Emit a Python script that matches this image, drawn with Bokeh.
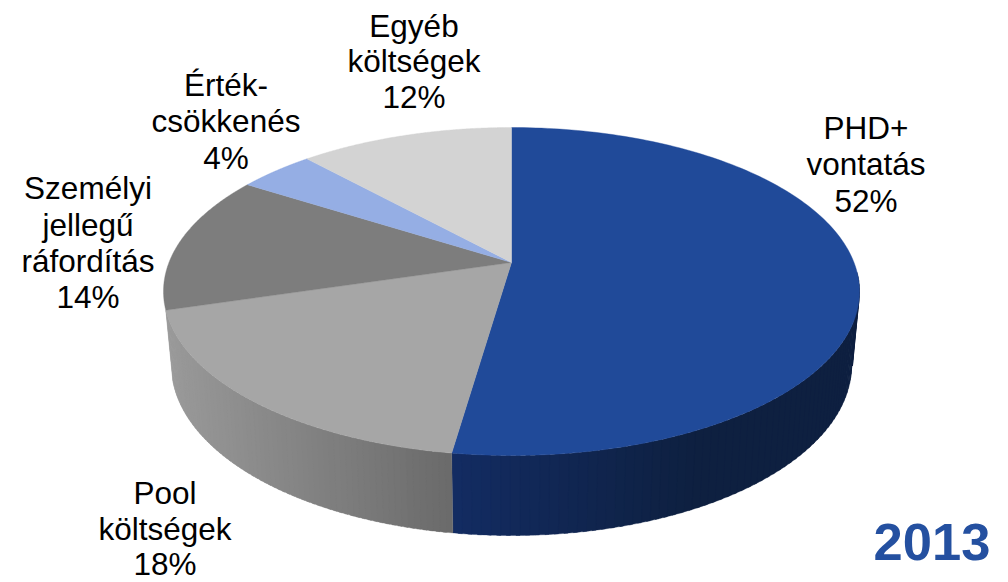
import numpy as np
from bokeh.plotting import figure
from bokeh.models import Range1d
from bokeh.core.properties import value
from bokeh.embed import file_html
from bokeh.resources import INLINE

# data
categories = ["PHD+ vontatás", "Pool költségek", "Személyi jellegű ráfordítás", "Érték-csökkenés", "Egyéb költségek"]
shares = [52.3, 18.1, 13.6, 4.2, 11.8]
top_colors = ["#204A99", "#A6A6A6", "#7D7D7D", "#95AEE4", "#D3D3D3"]
label_lines = [["PHD+", "vontatás", "52%"], ["Pool", "költségek", "18%"],
               ["Személyi", "jellegű", "ráfordítás", "14%"], ["Érték-", "csökkenés", "4%"],
               ["Egyéb", "költségek", "12%"]]
year_label = "2013"

# layout (screen pixels)
CX, CY, RX, RY, D = 511.0, 291.0, 348.0, 164.0, 29.0 / 164.0
BCY, BRX, BRY, K = 365.0, 340.0, 170.0, 0.98
label_x = [865.5, 164.5, 87.5, 225.5, 413.5]
label_y = [[127, 163, 200], [492, 528, 563], [187, 224, 260, 296], [84, 120, 157], [25, 60, 96]]

p = figure(width=1008, height=582, output_backend="svg", toolbar_location=None,
           x_range=Range1d(0, 1008), y_range=Range1d(582, 0),
           min_border=0, outline_line_color=None, background_fill_color="white")
p.axis.visible = False
p.grid.visible = False


def project(theta):
    """True pie angle (clockwise from top, radians) to screen point on the tilted disc."""
    u, v = np.sin(theta), np.cos(theta)
    w = 1 + D * v
    return CX + RX * (u * np.sqrt(1 - D * D) / w), CY - RY * ((v + D) / w)


def lower(xt):
    xb = CX + (xt - CX) * K
    return xb, BCY + BRY * np.sqrt(np.clip(1 - ((xb - CX) / BRX) ** 2, 0, 1))


def lerp_hex(a, b, f):
    ca = [int(a[i:i + 2], 16) for i in (1, 3, 5)]
    cb = [int(b[i:i + 2], 16) for i in (1, 3, 5)]
    return "#%02x%02x%02x" % tuple(int(round(x + (y - x) * f)) for x, y in zip(ca, cb))


edges = np.radians(np.concatenate([[0], np.cumsum(shares)]) * 3.6)

# visible side wall: only the near half of the disc
visible_from = np.radians(93.5)   # silhouette on the right
side_ranges = [(max(edges[0], visible_from), edges[1], "#0E2040", "#132C63"),
               (edges[1], edges[2], "#6B6B6B", "#9A9A9A")]
xs_side, ys_side, cs_side = [], [], []
for a, b, c_a, c_b in side_ranges:
    n = 70
    steps = np.linspace(a, b, n + 1)
    xb = project(b)[0]
    for i in range(n):
        th = np.linspace(steps[i], min(steps[i + 1] + 0.01, b), 6)
        xt, yt = project(th)
        xl, yl = lower(xt)
        xs_side.append(np.concatenate([xt, xl[::-1]]))
        ys_side.append(np.concatenate([yt, yl[::-1]]))
        mid = project(steps[i])[0]
        if c_a == "#0E2040":
            f = np.clip((700 - mid) / (700 - xb), 0, 1)
        else:
            x0 = project(edges[1])[0]
            f = (mid - x0) / (xb - x0)
        cs_side.append(lerp_hex(c_a, c_b, f))
p.patches(xs_side, ys_side, fill_color=cs_side, line_color=cs_side, line_width=0.3)

# top faces
ax, ay = CX, CY - RY * D
for i in range(len(shares)):
    th = np.linspace(edges[i], edges[i + 1], 160)
    xt, yt = project(th)
    p.patch(np.concatenate([[ax], xt]), np.concatenate([[ay], yt]),
            fill_color=top_colors[i], line_color=top_colors[i], line_width=0.4)

# labels
tx, ty, tt = [], [], []
for i, lines in enumerate(label_lines):
    for line, y in zip(lines, label_y[i]):
        tx.append(label_x[i]); ty.append(y); tt.append(line)
p.text(tx, ty, text=tt, text_font=value("Liberation Sans"), text_font_size="31.5px",
       text_color="#000000", text_align="center", text_baseline="alphabetic")
p.text([931.5], [541], text=[year_label], text_font=value("Liberation Sans"), text_font_style="bold",
       text_font_size="52.5px", text_color="#2450A0", text_align="center", text_baseline="alphabetic")

open("out.html", "w").write(file_html(p, INLINE))
